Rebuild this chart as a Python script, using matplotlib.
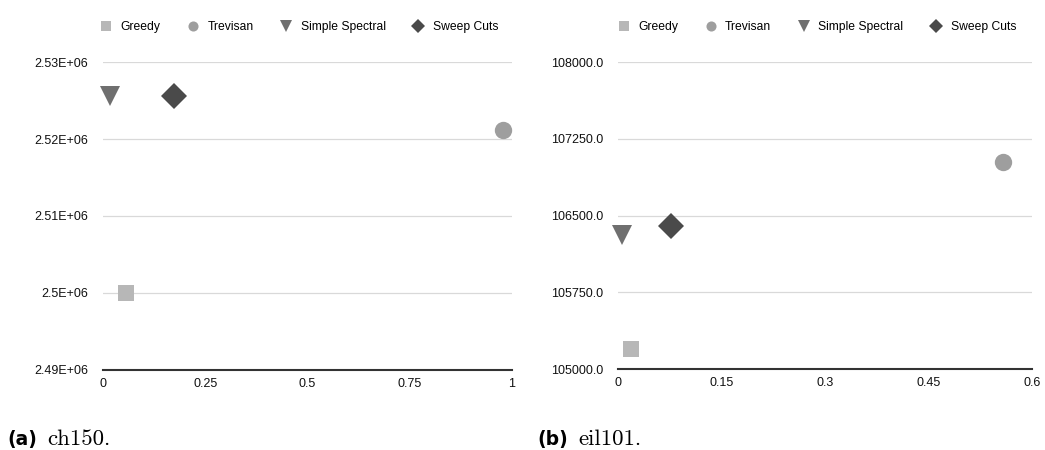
import matplotlib
matplotlib.use("Agg")
import matplotlib.pyplot as plt
from matplotlib.ticker import FixedLocator

plt.rcParams['font.family'] = ['Liberation Sans', 'DejaVu Sans']

methods = ["Greedy", "Trevisan", "Simple Spectral", "Sweep Cuts"]
markers = ["s", "o", "v", "D"]
colors = ["#b7b7b7", "#9e9e9e", "#6f6f6f", "#4a4a4a"]
sizes = [12, 12.5, 15, 13]

# ch150: time (x) vs tour length (y)
ch150_x = [0.056, 0.978, 0.017, 0.174]
ch150_y = [2500000, 2521200, 2525600, 2525600]
ch150_yticks = [2490000, 2500000, 2510000, 2520000, 2530000]
ch150_xticks = [0, 0.25, 0.5, 0.75, 1]
ch150_xtick_labels = ["0", "0.25", "0.5", "0.75", "1"]
ch150_ytick_labels = ["2.49E+06", "2.5E+06", "2.51E+06", "2.52E+06", "2.53E+06"]

# eil101
eil101_x = [0.019, 0.558, 0.007, 0.077]
eil101_y = [105195, 107026, 106305, 106393]
eil101_yticks = [105000, 105750, 106500, 107250, 108000]
eil101_xticks = [0, 0.15, 0.3, 0.45, 0.6]
eil101_xtick_labels = ["0", "0.15", "0.3", "0.45", "0.6"]
eil101_ytick_labels = ["105000.0", "105750.0", "106500.0", "107250.0", "108000.0"]


def draw_panel(ax, xs, ys, xticks, xlabels, yticks, ylabels):
    for x, y, m, c, s, name in zip(xs, ys, markers, colors, sizes, methods):
        ax.plot([x], [y], linestyle="none", marker=m, color=c, markersize=s,
                markeredgewidth=0, label=name, clip_on=False)
    ax.set_xlim(xticks[0], xticks[-1])
    ax.set_ylim(yticks[0], yticks[-1])
    ax.xaxis.set_major_locator(FixedLocator(xticks))
    ax.set_xticklabels(xlabels)
    ax.yaxis.set_major_locator(FixedLocator(yticks))
    ax.set_yticklabels(ylabels)
    ax.grid(axis="y", color="#d9d9d9", linewidth=0.9)
    ax.set_axisbelow(True)
    for side in ["top", "right", "left"]:
        ax.spines[side].set_visible(False)
    ax.spines["bottom"].set_color("#333333")
    ax.spines["bottom"].set_linewidth(1.5)
    ax.tick_params(axis="both", length=0, labelsize=9, colors="#111111")
    ax.tick_params(axis="y", pad=10.5)
    ax.tick_params(axis="x", pad=5.5)
    leg = ax.legend(loc="lower center", bbox_to_anchor=(0.48, 1.06), ncol=4,
                    frameon=False, fontsize=8.7, markerscale=0.58,
                    handlelength=1.0, handletextpad=0.7, columnspacing=2.2)
    return leg


fig = plt.figure(figsize=(10.45, 4.5), dpi=100)
ax1 = fig.add_axes([0.0986, 0.178, 0.391, 0.684])
ax2 = fig.add_axes([0.591, 0.18, 0.397, 0.682])

draw_panel(ax1, ch150_x, ch150_y, ch150_xticks, ch150_xtick_labels,
           ch150_yticks, ch150_ytick_labels)
draw_panel(ax2, eil101_x, eil101_y, eil101_xticks, eil101_xtick_labels,
           eil101_yticks, eil101_ytick_labels)

# subfigure captions
fig.text(0.007, 0.012, "(a)", fontsize=13.5, fontweight="bold", family="DejaVu Sans")
fig.text(0.045, 0.012, "ch150.", fontsize=16.5, family="cmr10")
fig.text(0.514, 0.012, "(b)", fontsize=13.5, fontweight="bold", family="DejaVu Sans")
fig.text(0.553, 0.012, "eil101.", fontsize=16.5, family="cmr10")

fig.savefig("out.png", dpi=100)
